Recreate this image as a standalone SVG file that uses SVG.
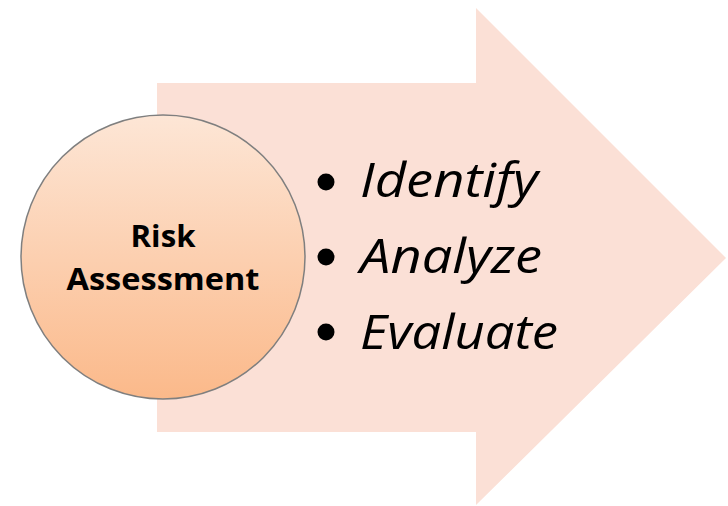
<svg xmlns="http://www.w3.org/2000/svg" width="728" height="506" viewBox="0 0 728 506">
<defs>
<linearGradient id="g" x1="0" y1="0" x2="0" y2="1">
<stop offset="0" stop-color="#fde6d6"/>
<stop offset="1" stop-color="#fbb98a"/>
</linearGradient>
<style>
.lbl{font-family:"Open Sans","Liberation Sans",sans-serif;font-weight:bold;font-size:31px;fill:#000;text-anchor:middle}
.it{font-family:"Open Sans","Liberation Sans",sans-serif;font-style:italic;font-size:48px;fill:#000}
</style>
</defs>
<rect width="728" height="506" fill="#fff"/>
<g id="arrow">
<polygon points="157,83 476,83 476,8 726,258 476,505 476,432 157,432" fill="#fbe0d6"/>
</g>
<g id="items">
<circle cx="326" cy="182" r="8.5"/>
<text class="it" x="360" y="197" textLength="178" lengthAdjust="spacingAndGlyphs">Identify</text>
<circle cx="326" cy="257" r="8.5"/>
<text class="it" x="360" y="273" textLength="182" lengthAdjust="spacingAndGlyphs">Analyze</text>
<circle cx="326" cy="332" r="8.5"/>
<text class="it" x="360" y="349" textLength="198" lengthAdjust="spacingAndGlyphs">Evaluate</text>
</g>
<g id="risk">
<circle cx="163" cy="257" r="142" fill="url(#g)" stroke="#7f7f7f" stroke-width="1.5"/>
<text class="lbl" x="163" y="247" textLength="65" lengthAdjust="spacingAndGlyphs">Risk</text>
<text class="lbl" x="163" y="290" textLength="193" lengthAdjust="spacingAndGlyphs">Assessment</text>
</g>
</svg>
